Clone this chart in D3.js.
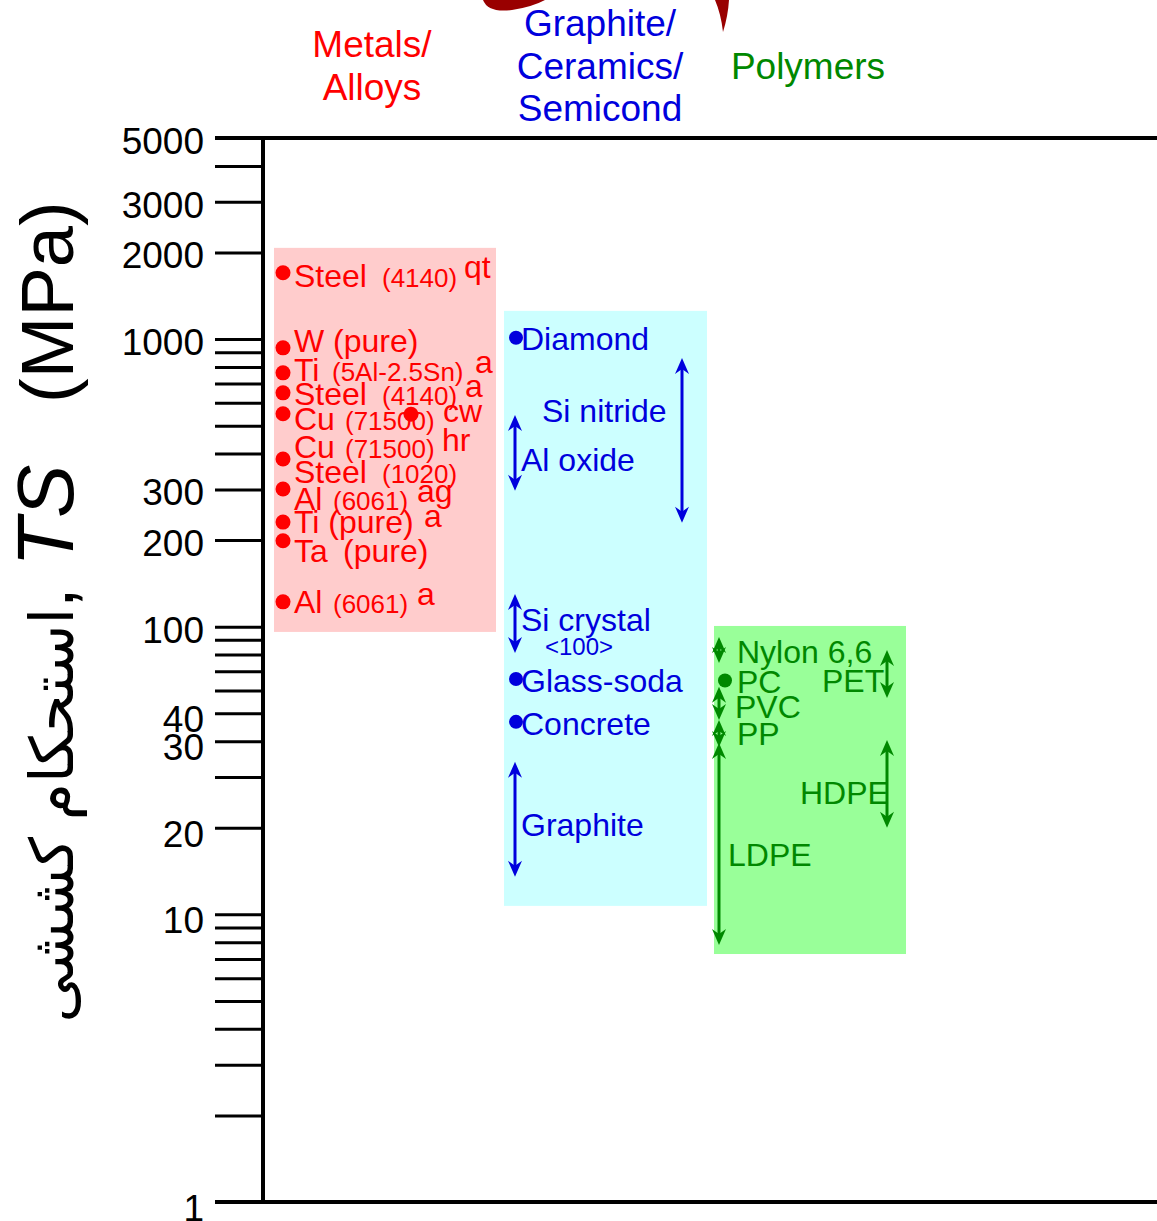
<!DOCTYPE html>
<html>
<head>
<meta charset="utf-8">
<script src="https://cdn.jsdelivr.net/npm/d3@7"></script>
<style>
  html, body { margin: 0; padding: 0; background: #fff; }
  svg { display: block; }
  text { font-family: Arial, "Liberation Sans", "DejaVu Sans", sans-serif; white-space: pre; }
</style>
</head>
<body>
<div id="chart"></div>
<script>
// tick marks of the log axis, and where the printed labels sit
var tickValues = [5000, 4000, 3000, 2000, 1000, 900, 800, 700, 600, 500, 400, 300, 200,
                  100, 90, 80, 70, 60, 50, 40, 30, 20, 10, 9, 8, 7, 6, 5, 4, 3, 2, 1];
var tickLabelText = ["5000", "3000", "2000", "1000", "300", "200", "100", "40", "30", "20", "10", "1"];
var tickLabelAt   = [5000, 3000, 2000, 1000, 300, 200, 100, 50, 40, 20, 10, 1];

// class ranges (MPa)
var classNames  = ["Metals/\nAlloys", "Graphite/\nCeramics/\nSemicond", "Polymers"];
var classRanges = [[95.9, 2075], [10.7, 1253], [7.28, 100.6]];

// metals: name, grade, condition, TS of dot (null = no dot), TS at label baseline
var metalNames = ["Steel", "W (pure)", "Ti", "Steel", "Cu", "Cu", "Steel", "Al", "Ti (pure)", "Ta", "Al"];
var metalSpecs = ["(4140)", "", "(5Al-2.5Sn)", "(4140)", "(71500)", "(71500)", "(1020)", "(6061)", "", "(pure)", "(6061)"];
var metalConds = ["qt", "", "a", "a", "cw", "hr", "", "ag", "a", "", "a"];
var metalTS    = [1700, 932, 763, 650, 550, 383, null, 301, 231, 199, 122];
var metalLabelAt = [1519, 903, 716, 590, 484, 386, 316, 255, 212, 168, 112];
var cuCwSecondDot = 548;

// ceramics: points and ranges
var ceramicPoints = [["Diamond", 1010], ["Glass-soda", 65.8], ["Concrete", 46.7]];
var ceramicPointLabelAt = [915, 59.3, 42.1];
var ceramicRangesLeft = [["Al oxide", 297, 545], ["Si crystal", 81, 130], ["Graphite", 13.5, 33.9]];
var ceramicRangesLeftLabelAt = [348, 96.7, 18.7];
var ceramicRangesRight = [["Si nitride", 230, 860]];
var ceramicRangesRightLabelAt = [515];

// polymers
var polymerRangesLeft = [["Nylon 6,6", 74.8, 92], ["PVC", 47.4, 61.8], ["PP", 38.2, 47.4], ["LDPE", 7.83, 39.4]];
var polymerRangesLeftLabelAt = [74.8, 48.2, 38.8, 14.7];
var polymerPoints = [["PC", 65]];
var polymerPointLabelAt = [58.9];
var polymerRangesRight = [["PET", 56.5, 83], ["HDPE", 20, 40.4]];
var polymerRangesRightLabelAt = [59.3, 24.2];

var width = 1157, height = 1221;
var red = "#ff0000", blue = "#0000dd", green = "#008800";

var svg = d3.select("#chart").append("svg")
    .attr("width", width)
    .attr("height", height);

var y = d3.scaleLog().domain([1, 5000]).range([1202, 138]);

// top decoration (part of a shape cut off by the page edge)
svg.append("path")
    .attr("d", "M483,0 Q488,13 512,10 Q532,7 545,0 Z")
    .attr("fill", "#990000");
svg.append("path")
    .attr("d", "M715,0 L729,0 Q728,16 723,32 Q721,14 715,0 Z")
    .attr("fill", "#990000");

// class boxes
var boxX = [[274, 496], [504, 707], [714, 906]];
var boxFill = ["#ffcccc", "#ccffff", "#99ff99"];
svg.selectAll("rect.cls")
    .data(classRanges)
    .enter().append("rect")
    .attr("class", "cls")
    .attr("x", function (d, i) { return boxX[i][0]; })
    .attr("width", function (d, i) { return boxX[i][1] - boxX[i][0]; })
    .attr("y", function (d) { return y(d[1]); })
    .attr("height", function (d) { return y(d[0]) - y(d[1]); })
    .attr("fill", function (d, i) { return boxFill[i]; });

// class headings
var headX = [372, 600, 808], headY = [57, 36, 79], headColor = [red, blue, green];
classNames.forEach(function (name, i) {
    var t = svg.append("text")
        .attr("x", headX[i]).attr("y", headY[i])
        .attr("text-anchor", "middle")
        .attr("font-size", 37)
        .attr("fill", headColor[i]);
    name.split("\n").forEach(function (line, j) {
        t.append("tspan").attr("x", headX[i]).attr("dy", j ? 42.5 : 0).text(line);
    });
});

// axis: left spine, frame lines, ticks
svg.append("line").attr("x1", 263).attr("x2", 263).attr("y1", y(5000)).attr("y2", y(1))
    .attr("stroke", "#000").attr("stroke-width", 4);
svg.append("line").attr("x1", 215).attr("x2", width).attr("y1", y(5000)).attr("y2", y(5000))
    .attr("stroke", "#000").attr("stroke-width", 4);
svg.append("line").attr("x1", 215).attr("x2", width).attr("y1", y(1)).attr("y2", y(1))
    .attr("stroke", "#000").attr("stroke-width", 4);

var axis = d3.axisLeft(y).tickValues(tickValues).tickSize(48).tickFormat("");
var ag = svg.append("g").attr("transform", "translate(263,0)").call(axis);
ag.select(".domain").remove();
ag.selectAll(".tick line").attr("stroke", "#000").attr("stroke-width", 3);

svg.selectAll("text.ticklab")
    .data(tickLabelText)
    .enter().append("text")
    .attr("class", "ticklab")
    .attr("x", 204)
    .attr("y", function (d, i) { return y(tickLabelAt[i]) + (tickLabelAt[i] < 100 ? 19 : 16); })
    .attr("text-anchor", "end")
    .attr("font-size", 37)
    .attr("fill", "#000")
    .text(function (d) { return d; });

// axis title
var title = svg.append("text")
    .attr("transform", "translate(73,612) rotate(-90)")
    .attr("text-anchor", "middle")
    .attr("font-size", 74)
    .attr("direction", "ltr")
    .attr("fill", "#000");
title.append("tspan").attr("font-size", 60).text("استحکام کششی");
title.append("tspan").text(", ");
title.append("tspan").attr("font-style", "italic").attr("font-size", 80).text("TS");
title.append("tspan").text("   (MPa)");

// double headed arrow
function arrow(g, x, v0, v1, color) {
    var yt = y(v1), yb = y(v0), L = 16, W = 7, N = 5;
    g.append("line").attr("x1", x).attr("x2", x).attr("y1", yt + 6).attr("y2", yb - 6)
        .attr("stroke", color).attr("stroke-width", 3);
    g.append("path")
        .attr("d", "M" + x + "," + yt + "L" + (x + W) + "," + (yt + L) + "L" + x + "," + (yt + L - N) +
                   "L" + (x - W) + "," + (yt + L) + "Z")
        .attr("fill", color);
    g.append("path")
        .attr("d", "M" + x + "," + yb + "L" + (x + W) + "," + (yb - L) + "L" + x + "," + (yb - L + N) +
                   "L" + (x - W) + "," + (yb - L) + "Z")
        .attr("fill", color);
}

function label(x, v, text, color) {
    return svg.append("text")
        .attr("x", x).attr("y", y(v))
        .attr("font-size", 32)
        .attr("fill", color)
        .text(text);
}

// metals
var mg = svg.append("g");
mg.selectAll("circle")
    .data(metalTS.filter(function (d) { return d !== null; }))
    .enter().append("circle")
    .attr("cx", 283).attr("cy", function (d) { return y(d); })
    .attr("r", 7.5).attr("fill", red);
mg.append("circle").attr("cx", 411).attr("cy", y(cuCwSecondDot)).attr("r", 7.5).attr("fill", red);

// where grade and condition start, and lift of the condition
var specX = [382, 0, 332, 382, 345, 345, 382, 333, 0, 343, 333];
var condX = [464, 0, 475, 465, 443, 442, 0, 417, 424, 0, 417];
var condLift = [-9, 0, -8, -8, -8, -7, 0, -8, -6, 0, -8];
metalNames.forEach(function (n, i) {
    var t = svg.append("text")
        .attr("x", 294).attr("y", y(metalLabelAt[i]))
        .attr("font-size", 32).attr("fill", red);
    t.append("tspan").text(n);
    if (metalSpecs[i]) {
        t.append("tspan").attr("x", specX[i])
            .attr("font-size", n === "Ta" ? 32 : 26).text(metalSpecs[i]);
    }
    if (metalConds[i]) {
        t.append("tspan").attr("x", condX[i]).attr("dy", condLift[i]).text(metalConds[i]);
    }
});

// ceramics
var cg = svg.append("g");
ceramicPoints.forEach(function (d, i) {
    cg.append("circle").attr("cx", 516).attr("cy", y(d[1])).attr("r", 7).attr("fill", blue);
    label(521, ceramicPointLabelAt[i], d[0], blue);
});
ceramicRangesLeft.forEach(function (d, i) {
    arrow(cg, 515, d[1], d[2], blue);
    label(521, ceramicRangesLeftLabelAt[i], d[0], blue);
});
svg.append("text")
    .attr("x", 545).attr("y", y(ceramicRangesLeftLabelAt[1]) + 24)
    .attr("font-size", 24).attr("fill", blue).text("<100>");
ceramicRangesRight.forEach(function (d, i) {
    arrow(cg, 682, d[1], d[2], blue);
    label(542, ceramicRangesRightLabelAt[i], d[0], blue);
});

// polymers
var pg = svg.append("g");
var polyLeftX = [737, 735, 737, 728];
polymerRangesLeft.forEach(function (d, i) {
    arrow(pg, 719, d[1], d[2], green);
    label(polyLeftX[i], polymerRangesLeftLabelAt[i], d[0], green);
});
polymerPoints.forEach(function (d, i) {
    pg.append("circle").attr("cx", 725).attr("cy", y(d[1])).attr("r", 7).attr("fill", green);
    label(737, polymerPointLabelAt[i], d[0], green);
});
var polyRightX = [822, 800];
polymerRangesRight.forEach(function (d, i) {
    arrow(pg, 887, d[1], d[2], green);
    label(polyRightX[i], polymerRangesRightLabelAt[i], d[0], green);
});
</script>
</body>
</html>
